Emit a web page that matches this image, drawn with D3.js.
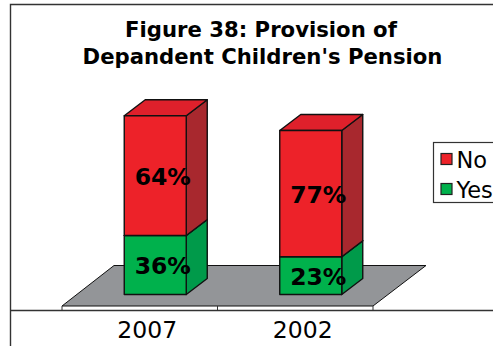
<!DOCTYPE html>
<html>
<head>
<meta charset="utf-8">
<script src="https://cdn.jsdelivr.net/npm/d3@7"></script>
<style>
html,body{margin:0;padding:0;background:#fff;overflow:hidden}
svg{display:block}
text{font-family:"DejaVu Sans",sans-serif;fill:#000}
</style>
</head>
<body>
<svg width="493" height="346"></svg>
<script>
var years = ['2007','2002'];
// drawn heights (the 2007 red block is taller than its 64% label says)
var yesValues = [36,23];
var noValues = [73,77];
var yesLabels = ['36%','23%'];
var noLabels = ['64%','77%'];
var legendNames = ['No','Yes'];
var titleLines = ['Figure 38: Provision of',"Depandent Children's Pension"];

var svg = d3.select('svg');
var depth = {x:21,y:-16};
var barWidth = 62;
var barShift = 15.5;
var floorTop = 265.5, floorFront = 306, axisY = 310.5;

var xscale = d3.scaleBand().domain(years).range([62,373]);
var yscale = d3.scaleLinear().domain([0,100]).range([294.5,130.5]);

// frame
var frame = svg.append('g').attr('fill','none').attr('stroke','#333').attr('stroke-width',1.4);
frame.append('path').attr('d','M493,4.5H10.5V346');
frame.append('path').attr('d','M10.5,'+axisY+'H493');

// floor
svg.append('path')
	.attr('d',`M62,${floorFront}L${62+52},${floorTop}H426L373,${floorFront}Z`)
	.attr('fill','#939598')
	.attr('stroke','#111')
	.attr('stroke-width',1);

// axis
var axis = svg.append('g').attr('transform',`translate(0,${axisY})`)
	.call(d3.axisBottom(xscale).tickSize(0));
axis.select('.domain').remove();
axis.selectAll('text')
	.attr('dx',7.5)
	.attr('dy',0)
	.attr('y',27)
	.style('font-family','"DejaVu Sans",sans-serif')
	.style('font-size','23.5px');
svg.append('g').selectAll('line')
	.data([62,xscale(years[1]),373])
	.enter()
	.append('line')
	.attr('x1',d => d)
	.attr('x2',d => d)
	.attr('y1',floorFront)
	.attr('y2',axisY)
	.attr('stroke','#333');

function block(g,x,y0,y1,front,top,side){
	var w = barWidth, dx = depth.x, dy = depth.y;
	g.append('path')
		.attr('d',`M${x+w},${y1}l${dx},${dy}V${y0+dy}l${-dx},${-dy}Z`)
		.attr('fill',side);
	g.append('path')
		.attr('d',`M${x},${y1}l${dx},${dy}h${w}l${-dx},${-dy}Z`)
		.attr('fill',top);
	g.append('rect')
		.attr('x',x).attr('y',y1)
		.attr('width',w).attr('height',y0-y1)
		.attr('fill',front);
}

var bars = svg.append('g').attr('stroke','#111').attr('stroke-width',1.4).attr('stroke-linejoin','round');
years.forEach(function(year,i){
	var x = xscale(year)+(xscale.bandwidth()-barWidth)/2+barShift;
	var y0 = yscale(0), y1 = yscale(yesValues[i]), y2 = yscale(yesValues[i]+noValues[i]);
	var g = bars.append('g');
	block(g,x,y0,y1,'#00b14c','#00a84a','#009a4a');
	block(g,x,y1,y2,'#ed2229','#df202b','#a8282e');
});

// value labels on top of the bars
var labels = svg.append('g')
	.attr('text-anchor','middle')
	.attr('font-size','23.5px')
	.attr('font-weight','bold');
years.forEach(function(year,i){
	var cx = xscale(year)+xscale.bandwidth()/2+barShift+7.5;
	var y0 = yscale(0), y1 = yscale(yesValues[i]), y2 = yscale(yesValues[i]+noValues[i]);
	labels.append('text').attr('x',cx).attr('y',(y1+y2)/2+9).text(noLabels[i]);
	labels.append('text').attr('x',cx).attr('y',(y0+y1)/2+9).text(yesLabels[i]);
});

// title
svg.append('g').attr('text-anchor','middle').attr('font-size','21.2px').attr('font-weight','bold')
	.selectAll('text').data(titleLines).enter().append('text')
	.attr('x',(d,i) => i == 0 ? 261 : 262.5)
	.attr('y',(d,i) => 37+i*27)
	.text(d => d);

// legend
var legend = svg.append('g');
legend.append('rect').attr('x',433.5).attr('y',142.5).attr('width',80).attr('height',60)
	.attr('fill','#fff').attr('stroke','#333').attr('stroke-width',1.2);
var legendColors = d3.scaleOrdinal().domain(legendNames).range(['#ed2229','#00b14c']);
legendNames.forEach(function(name,i){
	legend.append('rect').attr('x',441).attr('y',153.5+i*30).attr('width',11).attr('height',11)
		.attr('fill',legendColors(name)).attr('stroke','#222').attr('stroke-width',1.2);
	legend.append('text').attr('x',456.5).attr('y',168+i*30).attr('font-size','22.5px').text(name);
});
</script>
</body>
</html>
